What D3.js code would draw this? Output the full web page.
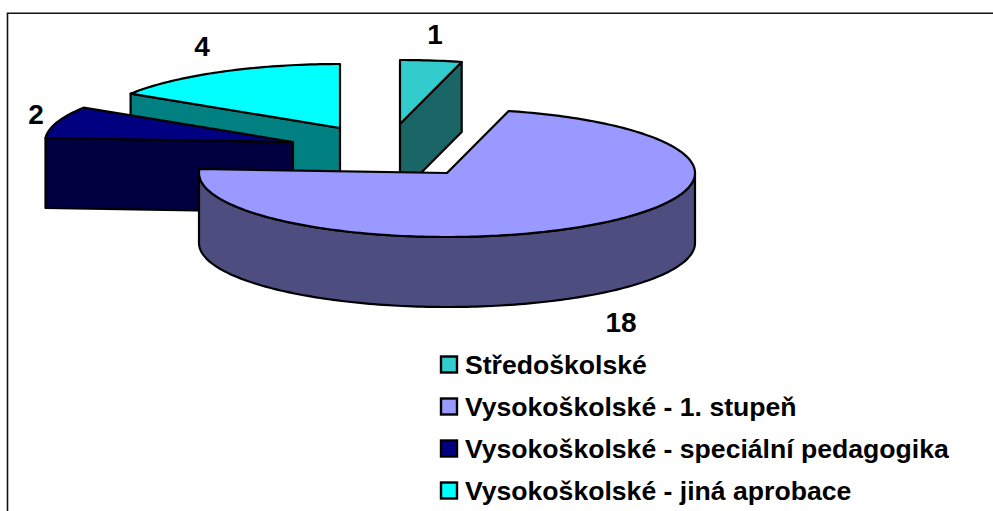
<!DOCTYPE html>
<html>
<head>
<meta charset="utf-8">
<script src="https://cdn.jsdelivr.net/npm/d3@7"></script>
<style>
  html, body { margin: 0; padding: 0; background: #fff; overflow: hidden; }
  text { font-family: "Liberation Sans", Arial, sans-serif; font-weight: bold; fill: #000; }
</style>
</head>
<body>
<svg id="chart" width="993" height="511"></svg>
<script>
const categories = ['Středoškolské', 'Vysokoškolské - 1. stupeň', 'Vysokoškolské - speciální pedagogika', 'Vysokoškolské - jiná aprobace'];
const values = [1, 18, 2, 4];
const topColors = ['#33cccc', '#9999ff', '#000080', '#00ffff'];
const sideColors = ['#1a6666', '#4d4d80', '#000040', '#008080'];

// apex of each exploded slice, label anchor, draw order back to front
const apexes = [[400, 124], [447, 173], [293, 142], [340, 128]];
const labelPos = [[435, 34], [621, 322], [36, 114], [202, 46]];
const drawOrder = [3, 0, 2, 1];

const rx = 248, ry = 64, depth = 70;

const svg = d3.select('#chart');

// frame: only top and left edges show in the crop
svg.append('path')
  .attr('d', 'M7.5,511V13.25H993')
  .attr('fill', 'none')
  .attr('stroke', '#111')
  .attr('stroke-width', 1.6);

const arcs = d3.pie().sort(null).value(d => d)(values);
const line = d3.line();

// point on the tilted pie, angle clockwise from 12 o'clock
const rim = (c, a, dy = 0) => [c[0] + rx * Math.sin(a), c[1] - ry * Math.cos(a) + dy];
const rimPoints = (c, a0, a1, dy = 0) => {
  const n = Math.max(2, Math.ceil((a1 - a0) / 0.02));
  return d3.range(n + 1).map(i => rim(c, a0 + (a1 - a0) * i / n, dy));
};

const shape = (pts, fill) => svg.append('path')
  .attr('d', line(pts) + 'Z')
  .attr('fill', fill)
  .attr('stroke', '#000')
  .attr('stroke-width', 2.2)
  .attr('stroke-linejoin', 'round');

const cutFace = (c, a, fill) => {
  const p = rim(c, a);
  shape([c, p, [p[0], p[1] + depth], [c[0], c[1] + depth]], fill);
};

drawOrder.forEach(i => {
  const c = apexes[i], a0 = arcs[i].startAngle, a1 = arcs[i].endAngle;

  // cut faces: only the ones turned towards the viewer
  if (Math.sin(a0) < -1e-6) cutFace(c, a0, sideColors[i]);
  if (Math.sin(a1) > 1e-6) cutFace(c, a1, sideColors[i]);

  // outer wall for the front half of the rim
  const f0 = Math.max(a0, Math.PI / 2), f1 = Math.min(a1, Math.PI * 1.5);
  if (f1 > f0) {
    shape(rimPoints(c, f0, f1).concat(rimPoints(c, f0, f1, depth).reverse()), sideColors[i]);
  }

  shape([c].concat(rimPoints(c, a0, a1)), topColors[i]);
});

// data labels
svg.selectAll('.value')
  .data(values)
  .join('text')
  .attr('class', 'value')
  .attr('x', (d, i) => labelPos[i][0])
  .attr('y', (d, i) => labelPos[i][1])
  .attr('text-anchor', 'middle')
  .attr('dominant-baseline', 'central')
  .attr('font-size', 28)
  .text(d => d);

// legend
const legendY = d3.scalePoint().domain(categories).range([364.5, 490.5]);
const legend = svg.selectAll('.legend')
  .data(categories)
  .join('g')
  .attr('class', 'legend')
  .attr('transform', d => `translate(0,${legendY(d)})`);

legend.append('rect')
  .attr('x', 441).attr('y', -8)
  .attr('width', 16).attr('height', 16)
  .attr('fill', (d, i) => topColors[i])
  .attr('stroke', '#000').attr('stroke-width', 2.4);

legend.append('text')
  .attr('x', 465)
  .attr('y', 0)
  .attr('dominant-baseline', 'central')
  .attr('font-size', 26.6)
  .text(d => d);
</script>
</body>
</html>
